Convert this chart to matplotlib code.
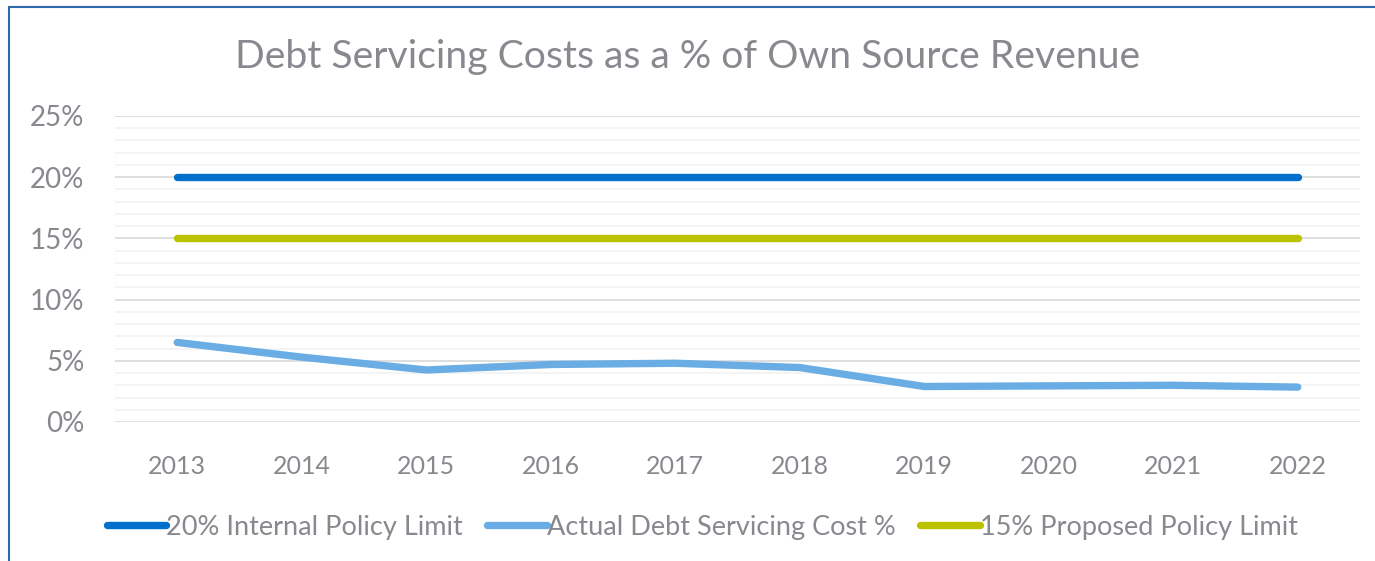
import matplotlib.pyplot as plt
from matplotlib.patches import Rectangle
from matplotlib.ticker import MultipleLocator, FuncFormatter

plt.rcParams['font.family'] = ['Lato', 'DejaVu Sans']

years = ['2013', '2014', '2015', '2016', '2017', '2018', '2019', '2020', '2021', '2022']
internal_limit = [20, 20, 20, 20, 20, 20, 20, 20, 20, 20]
actual_cost = [6.5, 5.3, 4.25, 4.7, 4.8, 4.45, 2.9, 2.95, 3.0, 2.85]
proposed_limit = [15, 15, 15, 15, 15, 15, 15, 15, 15, 15]

txt = '#88888f'

fig = plt.figure(figsize=(13.75, 5.61), dpi=100)
ax = fig.add_axes([115 / 1375, 1 - 422 / 561, 1245 / 1375, 306 / 561])

x = range(len(years))
ax.plot(x, internal_limit, color='#0070cc', lw=5.3, solid_capstyle='round',
        label='20% Internal Policy Limit', zorder=3)
ax.plot(x, actual_cost, color='#6aade4', lw=5.3, solid_capstyle='round',
        solid_joinstyle='round', label='Actual Debt Servicing Cost %', zorder=3)
ax.plot(x, proposed_limit, color='#bbc300', lw=5.3, solid_capstyle='round',
        label='15% Proposed Policy Limit', zorder=3)

ax.set_xlim(-0.5, len(years) - 0.5)
ax.set_ylim(0, 25)
ax.set_xticks(list(x))
ax.set_xticklabels(years)
ax.yaxis.set_major_locator(MultipleLocator(5))
ax.yaxis.set_minor_locator(MultipleLocator(1))
ax.yaxis.set_major_formatter(FuncFormatter(lambda v, p: f'{v:.0f}%'))
ax.grid(which='major', axis='y', color='#d9d9d9', lw=1.2)
ax.grid(which='minor', axis='y', color='#f2f2f2', lw=1.2)
ax.set_axisbelow(True)
for s in ax.spines.values():
    s.set_visible(False)
ax.tick_params(axis='both', which='both', length=0, colors=txt)
ax.tick_params(axis='y', labelsize=20, pad=22)
ax.tick_params(axis='x', labelsize=18, pad=24)

fig.text(0.5, 1 - 57 / 561, 'Debt Servicing Costs as a % of Own Source Revenue',
         ha='center', va='center', fontsize=28.2, color=txt)

leg = fig.legend(loc='center', bbox_to_anchor=(702 / 1375, 1 - 527 / 561), ncol=3,
                 frameon=False, fontsize=19.5, handlelength=2.2, handletextpad=0.0,
                 columnspacing=0.9)
for t in leg.get_texts():
    t.set_color(txt)

fig.patches.append(Rectangle((9 / 1375, -0.1), 1.2, 1 - 7 / 561 + 0.1,
                             transform=fig.transFigure, fill=False,
                             edgecolor='#2f69ad', lw=1.5))

fig.savefig('out.png', dpi=100)
